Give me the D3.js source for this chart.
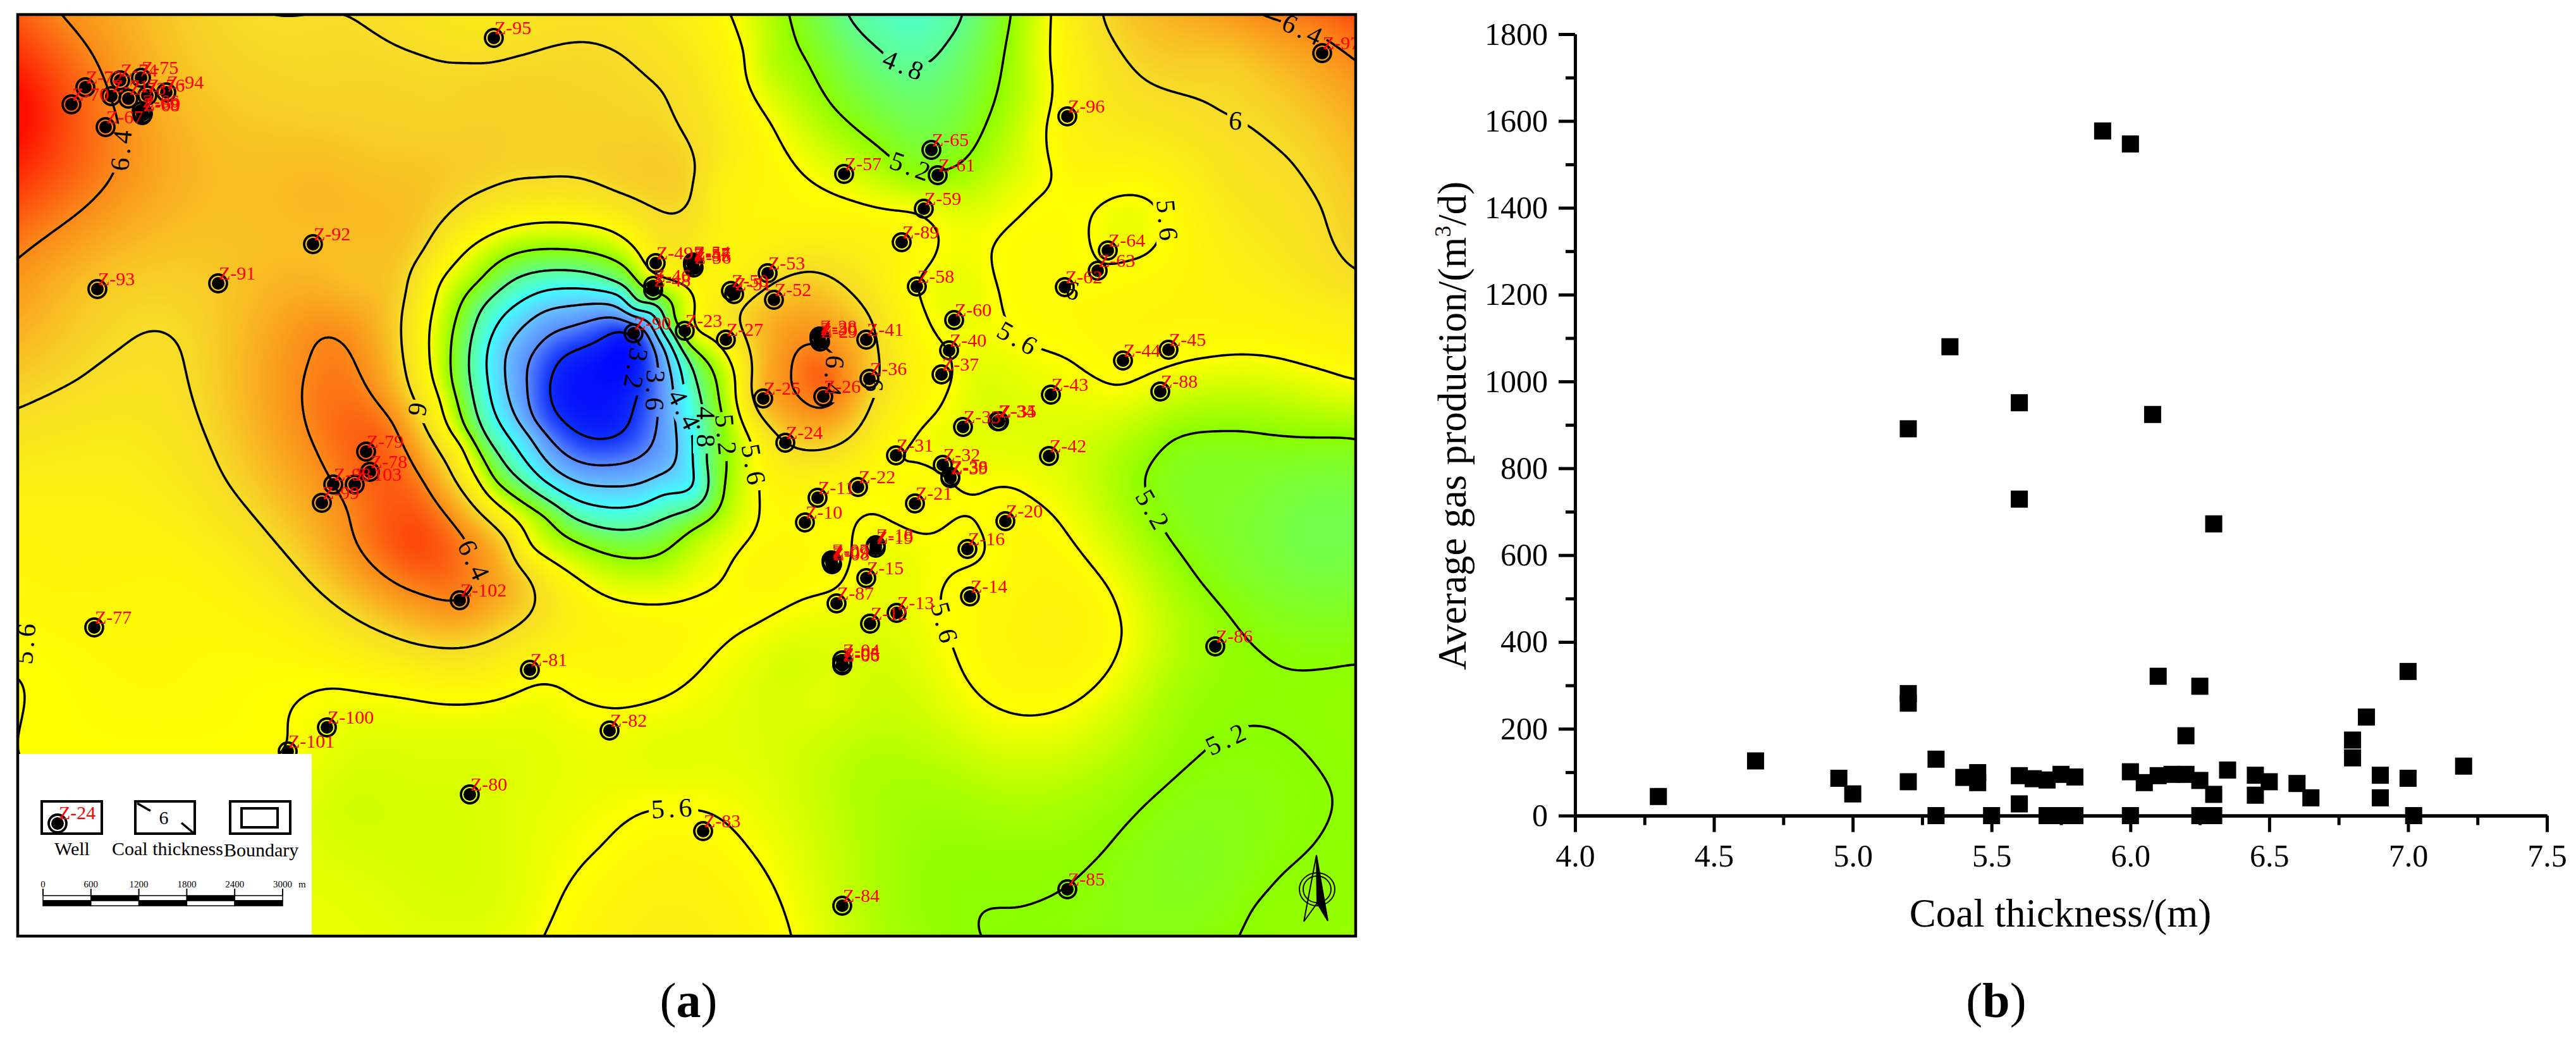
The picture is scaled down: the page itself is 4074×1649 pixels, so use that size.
<!DOCTYPE html>
<html><head><meta charset="utf-8">
<script src="https://cdn.jsdelivr.net/npm/d3@7"></script>
<style>html,body{margin:0;padding:0;background:#fff}svg{display:block}text{font-family:"Liberation Serif","Times New Roman",serif}</style>
</head><body><div id="chart"></div>
<script>
// ---------- (b) scatter readings ----------
const thickness = [4.3,4.65,4.95,5.0,5.2,5.2,5.2,5.2,5.35,5.3,5.3,5.4,5.45,5.45,5.5,5.6,5.6,5.6,5.6,5.65,5.7,5.75,5.8,5.7,5.75,5.8,5.9,6.0,6.0,6.0,6.05,6.08,6.1,6.1,6.15,6.2,6.2,6.25,6.25,6.25,6.3,6.3,6.3,6.35,6.45,6.45,6.5,6.6,6.65,6.8,6.8,6.85,6.9,6.9,7.0,7.0,7.02,7.2];
const gasRate   = [44,126,86,50,78,259,281,891,1080,130,0,88,99,76,0,92,27,951,729,85,82,95,89,0,0,0,1577,1547,101,0,76,924,92,321,95,95,184,81,298,0,49,0,672,105,93,47,78,74,41,174,133,227,93,41,86,332,0,114];
const xTicksMajor = [4,4.5,5,5.5,6,6.5,7,7.5];
const xTicksMinor = [4.25,4.75,5.25,5.75,6.25,6.75,7.25];
const yTicksMajor = [0,200,400,600,800,1000,1200,1400,1600,1800];
const yTicksMinor = [100,300,500,700,900,1100,1300,1500,1700];

// ---------- (a) wells: map position readings ----------
const wellNames=["Z-95","Z-92","Z-91","Z-93","Z-72","Z-70","Z-74","Z-75","Z-71","Z-73","Z-76","Z-94","Z-66","Z-69","Z-68","Z-67","Z-97","Z-96","Z-65","Z-57","Z-61","Z-59","Z-89","Z-64","Z-63","Z-62","Z-58","Z-53","Z-50","Z-51","Z-52","Z-54","Z-55","Z-56","Z-47","Z-49","Z-46","Z-48","Z-23","Z-90","Z-27","Z-28","Z-29","Z-30","Z-41","Z-60","Z-40","Z-37","Z-36","Z-26","Z-25","Z-44","Z-45","Z-43","Z-88","Z-33","Z-34","Z-35","Z-24","Z-31","Z-42","Z-32","Z-38","Z-39","Z-22","Z-11","Z-21","Z-10","Z-20","Z-18","Z-19","Z-16","Z-07","Z-08","Z-09","Z-15","Z-14","Z-87","Z-13","Z-12","Z-04","Z-05","Z-06","Z-86","Z-83","Z-84","Z-85","Z-77","Z-102","Z-81","Z-100","Z-101","Z-82","Z-80","Z-79","Z-78","Z-98","Z-103","Z-99"];
const wellEast=[781,495,345,154,135,113,190,223,176,203,233,263,224,226,225,167,2091,1688,1473,1335,1483,1461,1426,1752,1736,1684,1450,1214,1156,1161,1224,1096,1096,1097,1096,1037,1033,1033,1083,1002,1148,1296,1297,1296,1370,1509,1501,1489,1375,1302,1207,1776,1848,1662,1835,1523,1578,1580,1242,1417,1659,1491,1503,1503,1357,1293,1447,1273,1590,1385,1385,1530,1315,1316,1315,1370,1534,1323,1418,1376,1332,1332,1332,1922,1112,1332,1688,149,727,838,517,455,964,743,579,585,527,561,509];
const wellNorth=[60,386,448,457,138,165,127,123,152,156,151,146,176,180,182,201,84,184,237,275,277,330,383,396,428,454,453,432,460,465,474,415,419,423,417,416,452,459,523,527,537,532,540,536,537,506,554,592,599,627,630,570,553,624,619,675,666,666,700,720,721,735,754,756,770,787,796,826,824,862,866,868,886,892,889,914,943,954,969,986,1044,1050,1052,1022,1314,1432,1406,992,949,1059,1150,1188,1155,1256,714,746,766,766,795];

// ---------- (a) coal-thickness readings along the drawn isolines ----------
const iso32=[[868,611],[891,562],[951,536],[991,523],[1004,640],[991,679],[951,696],[904,679],[874,645]];
const iso36=[[834,611],[850,548],[904,516],[984,504],[1028,533],[1041,582],[1035,693],[1004,727],[957,736],[891,717],[847,669]];
const iso40=[[864,490],[957,480],[1024,504],[1050,548],[1065,606],[1072,722],[1018,763],[964,769],[907,760],[837,688],[800,611],[800,557]];
const iso44=[[891,456],[830,473],[783,519],[773,611],[797,679],[860,760],[968,803],[1024,794],[1050,780],[1101,768],[1094,679],[1079,606],[1050,533],[1024,490],[984,468]];
const iso48=[[884,427],[814,441],[763,485],[745,538],[745,611],[770,693],[824,760],[904,817],[971,837],[1031,828],[1094,805],[1120,760],[1116,727],[1112,654],[1087,567],[1068,528],[1050,504],[1011,485],[971,446],[1340,23],[1387,75],[1472,97],[1497,68],[1523,23]];
const iso52=[[884,394],[804,405],[757,446],[723,499],[713,557],[716,611],[737,679],[783,760],[864,817],[924,862],[984,881],[1045,876],[1098,834],[1145,766],[1149,742],[1142,654],[1123,577],[1079,533],[1065,509],[1065,480],[1031,460],[991,422],[937,400],
 [1248,23],[1277,97],[1314,165],[1395,237],[1442,271],[1505,267],[1556,204],[1578,141],[1593,58],[1599,23],
 [1809,760],[1827,722],[1857,693],[1893,683],[1967,681],[2062,691],[2143,693],[1824,808],[1846,848],[1893,913],[1941,970],[1996,1032],[2077,1058],[2143,1049],
 [1549,1480],[1607,1435],[1688,1401],[1747,1344],[1813,1270],[1904,1188],[1992,1148],[2040,1168],[2084,1214],[2108,1259],[2091,1316],[2025,1384],[1981,1435],[1959,1480]];
const iso56=[[884,352],[804,361],[737,397],[696,446],[680,514],[680,572],[696,630],[730,703],[757,760],[837,862],[937,930],[1004,953],[1050,954],[1094,944],[1145,913],[1189,845],[1200,788],[1186,693],[1164,601],[1123,533],[1101,526],[1098,494],[1087,456],[1050,441],[1024,427],[1004,393],[964,364],
 [1156,23],[1178,87],[1219,194],[1255,257],[1299,296],[1343,315],[1395,329],[1446,334],[1472,349],[1484,383],[1472,417],[1450,451],[1461,490],[1479,528],[1501,557],[1508,596],[1483,650],[1446,693],[1417,722],[1457,732],[1501,760],[1530,786],[1578,769],[1629,786],[1673,822],[1710,873],[1754,930],[1775,1004],[1754,1060],[1695,1114],[1622,1132],[1563,1112],[1527,1072],[1512,1038],[1494,987],[1486,941],[1505,907],[1556,882],[1560,856],[1527,808],[1490,834],[1464,845],[1424,831],[1380,810],[1351,834],[1347,885],[1325,930],[1270,947],[1197,987],[1123,1043],[1050,1103],[981,1120],[904,1100],[850,1080],[804,1100],[737,1113],[636,1103],[529,1087],[482,1100],[455,1146],[455,1180],[29,1068],[29,1190],[240,1250],
 [1662,23],[1660,97],[1655,194],[1665,271],[1637,315],[1593,359],[1567,402],[1571,436],[1585,490],[1611,536],[1648,553],[1688,567],[1739,601],[1772,611],[1813,594],[1857,577],[1915,565],[1974,561],[2062,577],[2143,601],
 [1824,320],[1776,308],[1739,325],[1723,359],[1728,397],[1739,417],[1783,412],[1824,393],[1837,355],
 [860,1480],[891,1412],[951,1338],[1024,1282],[1120,1284],[1182,1338],[1226,1406],[1252,1480]];
const iso60=[[549,23],[603,58],[670,87],[737,98],[810,90],[870,73],[924,65],[978,82],[1024,121],[1050,145],[1079,208],[1101,271],[1094,315],[1065,339],[1045,334],[971,303],[857,282],[770,300],[710,339],[670,397],[643,465],[635,514],[639,572],[650,620],[670,671],[696,717],[720,760],[804,856],[837,913],[847,953],[804,998],[720,1025],[656,1018],[549,970],[469,896],[402,817],[358,760],[335,712],[301,616],[285,548],[244,522],[194,548],[121,601],[30,645],
 [1283,428],[1226,446],[1167,504],[1186,611],[1197,650],[1242,700],[1292,712],[1343,693],[1378,637],[1391,572],[1380,509],[1343,460],
 [1743,23],[1772,82],[1813,128],[1930,177],[1978,201],[2040,252],[2091,330],[2143,427]];
const iso64=[[97,23],[144,82],[177,160],[187,194],[181,271],[121,339],[30,407],
 [1288,543],[1252,591],[1266,630],[1302,647],[1332,620],[1325,572],
 [516,529],[489,567],[477,620],[489,688],[502,717],[530,770],[549,805],[562,856],[603,907],[670,941],[727,950],[750,900],[733,848],[670,760],[643,712],[623,669],[589,625],[549,548],
 [1996,24],[2033,36],[2091,58],[2143,95]];
const isoLevels=[[3.2,iso32],[3.6,iso36],[4.0,iso40],[4.4,iso44],[4.8,iso48],[5.2,iso52],[5.6,iso56],[6.0,iso60],[6.4,iso64]];
// spot readings [east,north,thickness]
const spotReadings=[[945,615,3.0],[1455,24,4.62],[1440,60,4.68],[28,180,6.85],[28,24,6.55],[28,300,6.65],[100,200,6.62],[250,200,6.25],[500,150,6.04],[300,100,6.1],[700,180,6.04],[154,457,6.1],[345,448,6.1],[495,386,6.15],[500,300,6.18],[600,250,6.1],[28,500,6.25],[560,450,6.15],[660,856,6.62],[610,800,6.55],[1295,590,6.55],[2144,24,6.6],[1950,100,6.08],[1700,100,5.75],[1700,250,5.72],[1800,500,5.7],[2000,480,5.75],[1950,300,5.9],[2143,500,5.8],[1780,360,5.52],[2060,870,5.0],[2143,850,5.0],[1950,780,5.1],[1900,1380,5.12],[1050,1480,5.8],[1050,1380,5.72],[656,1230,5.47],[536,1270,5.45],[850,1300,5.52],[803,1440,5.5],[560,1400,5.5],[1500,1250,5.3],[1350,1200,5.35],[1300,1100,5.5],[1850,1100,5.3],[1400,1450,5.3],[1700,1250,5.32],[2130,1400,5.22],[1600,700,5.5],[1750,750,5.35],[1650,950,5.72],[1600,1000,5.7],[1420,950,5.52],[1400,890,5.52],[1528,797,5.63],[1600,810,5.66],[1450,780,5.68],[1470,700,5.55],[1530,450,5.52],[1540,600,5.5],[1625,150,5.4],[1210,100,5.4],[1420,450,5.7],[1430,550,5.75],[1283,380,5.75],[1130,300,5.8],[1200,300,5.7],[1150,430,5.7],[1300,760,5.72],[1240,830,5.65],[1200,900,5.68],[1000,1020,5.7],[1250,1050,5.45],[1400,1050,5.45],[1050,1190,5.5],[1300,1300,5.42],[100,900,5.72],[300,900,5.72],[200,700,5.85],[28,800,5.75],[450,1000,5.72],[650,1060,5.75],[900,1040,5.68],[100,1140,5.62],[250,1060,5.66],[750,30,5.85],[1000,200,6.04],[900,180,6.04],[820,220,6.06],[1060,40,5.85],[1140,60,5.7]];

// ---------- contour labels ----------
const contourLabelText =["6.4","5.6","6","6.4","4.8","5.2","5.6","3.2","3.6","4.4","4.8","5.2","5.6","6","6.4","6","6","5.6","6.4","5.6","5.2","5.2","5.6"];
const contourLabelEast =[192,1846,1957,2062,1431,1442,1611,1005,1036,1083,1116,1148,1192,660,1318,1382,1699,40,750,1494,1824,1941,1065];
const contourLabelNorth=[235,351,191,48,104,264,536,585,620,650,678,690,737,650,597,612,460,1015,888,987,808,1168,1278];
const contourLabelAngle=[-85,85,5,25,22,20,30,100,92,63,90,85,80,100,95,90,10,-85,65,75,60,-25,-3];

const scaleBarStops=[0,600,1200,1800,2400,3000];
const colorStops=[2.9,3.2,3.6,4.0,4.4,4.8,5.2,5.6,6.0,6.4,6.8,7.0];
const colorValues=["#0000ff","#1030f8","#5a8cff","#68c4ff","#40ffff","#60ff90","#8cff00","#ffff00","#f7dd28","#fb8a1a","#ff1000","#ff0000"];

// ---------- layout ----------
const W=4074,H=1649;
const M={l:28,t:23,r:2144,b:1480};
const P={l:2491,r:4028,t:54,b:1289.5};
const svg=d3.select("#chart").append("svg").attr("width",W).attr("height",H).attr("viewBox",`0 0 ${W} ${H}`);
const mapX=d3.scaleLinear().domain([28,2144]).range([M.l,M.r]);
const mapY=d3.scaleLinear().domain([23,1480]).range([M.t,M.b]);
const color=d3.scaleLinear().domain(colorStops).range(colorValues).interpolate(d3.interpolateRgb).clamp(true);

// ---------- thin-plate surface through the readings ----------
const pts=[];
isoLevels.forEach(([lv,arr])=>arr.forEach(p=>pts.push([p[0]/1000,p[1]/1000,lv])));
spotReadings.forEach(p=>pts.push([p[0]/1000,p[1]/1000,p[2]]));
const n=pts.length,N=n+3;
const A=Array.from({length:N},()=>new Float64Array(N+1));
const U=r2=>r2>1e-12?r2*Math.log(r2)*0.5:0;
for(let i=0;i<n;i++){
  for(let j=0;j<n;j++){const dx=pts[i][0]-pts[j][0],dy=pts[i][1]-pts[j][1];A[i][j]=U(dx*dx+dy*dy);}
  A[i][i]=5e-5;
  A[i][n]=1;A[i][n+1]=pts[i][0];A[i][n+2]=pts[i][1];
  A[n][i]=1;A[n+1][i]=pts[i][0];A[n+2][i]=pts[i][1];
  A[i][N]=pts[i][2];
}
for(let c=0;c<N;c++){
  let m=c;for(let r=c+1;r<N;r++)if(Math.abs(A[r][c])>Math.abs(A[m][c]))m=r;
  [A[c],A[m]]=[A[m],A[c]];
  const pv=A[c];
  for(let r=c+1;r<N;r++){const f=A[r][c]/pv[c];if(f===0)continue;const R=A[r];for(let k=c;k<=N;k++)R[k]-=f*pv[k];}
}
const w=new Float64Array(N);
for(let r=N-1;r>=0;r--){let s=A[r][N];for(let k=r+1;k<N;k++)s-=A[r][k]*w[k];w[r]=s/A[r][r];}
const step=4,pad=16;
const gx0=28-pad,gy0=23-pad;
const nx=Math.ceil((2116+2*pad)/step),ny=Math.ceil((1457+2*pad)/step);
const field=new Float64Array(nx*ny);
for(let j=0;j<ny;j++){
  const y=(gy0+(j+.5)*step)/1000;
  for(let i=0;i<nx;i++){
    const x=(gx0+(i+.5)*step)/1000;
    let v=w[n]+w[n+1]*x+w[n+2]*y;
    for(let k=0;k<n;k++){const dx=x-pts[k][0],dy=y-pts[k][1];const r2=dx*dx+dy*dy;if(r2>1e-12)v+=w[k]*r2*Math.log(r2)*0.5;}
    field[j*nx+i]=v;
  }
}
if(d3.blur2) d3.blur2({data:field,width:nx,height:ny},2);
// raster
const cv=document.createElement("canvas");cv.width=nx;cv.height=ny;
const ctx=cv.getContext("2d");const img=ctx.createImageData(nx,ny);
for(let i=0;i<nx*ny;i++){const c=d3.rgb(color(field[i]));img.data[4*i]=c.r;img.data[4*i+1]=c.g;img.data[4*i+2]=c.b;img.data[4*i+3]=255;}
ctx.putImageData(img,0,0);
const defs=svg.append("defs");
defs.append("clipPath").attr("id","mapClip").append("rect").attr("x",M.l).attr("y",M.t).attr("width",M.r-M.l).attr("height",M.b-M.t);
const gMap=svg.append("g").attr("clip-path","url(#mapClip)");
gMap.append("image").attr("href",cv.toDataURL()).attr("x",mapX(gx0)).attr("y",mapY(gy0)).attr("width",nx*step).attr("height",ny*step).attr("preserveAspectRatio","none");

// contour label mask
const mask=defs.append("mask").attr("id","labelGaps").attr("maskUnits","userSpaceOnUse").attr("x",0).attr("y",0).attr("width",W).attr("height",H);
mask.append("rect").attr("width",W).attr("height",H).attr("fill","#fff");
contourLabelText.forEach((t,i)=>{
  const L=t.length===1?34:78;
  mask.append("rect").attr("x",-L/2).attr("y",-20).attr("width",L).attr("height",40).attr("fill","#000")
   .attr("transform",`translate(${mapX(contourLabelEast[i])},${mapY(contourLabelNorth[i])}) rotate(${contourLabelAngle[i]})`);
});
const contourGen=d3.contours().size([nx,ny]).smooth(true).thresholds(isoLevels.map(d=>d[0]));
const path=d3.geoPath(d3.geoTransform({point(x,y){this.stream.point(mapX(gx0+x*step),mapY(gy0+y*step));}}));
gMap.append("g").attr("mask","url(#labelGaps)").selectAll("path").data(contourGen(Array.from(field))).join("path")
 .attr("d",path).attr("fill","none").attr("stroke","#000").attr("stroke-width",3.6).attr("stroke-linejoin","round");

// contour labels
gMap.append("g").selectAll("text").data(contourLabelText).join("text")
 .attr("transform",(d,i)=>`translate(${mapX(contourLabelEast[i])},${mapY(contourLabelNorth[i])}) rotate(${contourLabelAngle[i]})`)
 .attr("text-anchor","middle").attr("dy",".33em").attr("font-size",42).attr("letter-spacing",6).attr("fill","#000").text(d=>d);

// wells
function well(g,x,y){
  g.append("circle").attr("cx",x).attr("cy",y).attr("r",14).attr("fill","none").attr("stroke","#000").attr("stroke-width",3.8);
  g.append("circle").attr("cx",x).attr("cy",y).attr("r",10).attr("fill","#000");
}
const gWells=gMap.append("g");
wellNames.forEach((nm,i)=>well(gWells,mapX(wellEast[i]),mapY(wellNorth[i])));
gMap.append("g").selectAll("text").data(wellNames).join("text")
 .attr("x",(d,i)=>mapX(wellEast[i])+1).attr("y",(d,i)=>mapY(wellNorth[i])-6)
 .attr("font-size",30).attr("fill","#ff0000").text(d=>d);

// legend
const gLeg=svg.append("g");
gLeg.append("rect").attr("x",M.l).attr("y",1192).attr("width",465).attr("height",M.b-1192).attr("fill","#fff");
[[66,161],[214,308],[364,459]].forEach(b=>gLeg.append("rect").attr("x",b[0]).attr("y",1267).attr("width",b[1]-b[0]).attr("height",51).attr("fill","#fff").attr("stroke","#000").attr("stroke-width",4));
gLeg.append("rect").attr("x",382).attr("y",1278).attr("width",57).attr("height",30).attr("fill","none").attr("stroke","#000").attr("stroke-width",4);
well(gLeg,91,1302);
gLeg.append("text").attr("x",93).attr("y",1295).attr("font-size",30).attr("fill","#ff0000").text("Z-24");
gLeg.append("text").attr("x",259).attr("y",1303).attr("text-anchor","middle").attr("font-size",30).text("6");
gLeg.append("line").attr("x1",217).attr("y1",1270).attr("x2",238).attr("y2",1282).attr("stroke","#000").attr("stroke-width",3.5);
gLeg.append("line").attr("x1",287).attr("y1",1301).attr("x2",306).attr("y2",1317).attr("stroke","#000").attr("stroke-width",3.5);
gLeg.append("text").attr("x",86).attr("y",1352).attr("font-size",30).text("Well");
gLeg.append("text").attr("x",177).attr("y",1352).attr("font-size",30).text("Coal thickness");
gLeg.append("text").attr("x",354).attr("y",1354).attr("font-size",30).text("Boundary");
// scale bar
const sb=d3.scaleLinear().domain([0,3000]).range([68,447]);
d3.pairs(scaleBarStops).forEach((p,i)=>{
  const x0=sb(p[0]),bw=sb(p[1])-sb(p[0]);
  gLeg.append("rect").attr("x",x0).attr("y",1416).attr("width",bw).attr("height",8).attr("fill",i%2?"#000":"#fff").attr("stroke","#000").attr("stroke-width",1.5);
  gLeg.append("rect").attr("x",x0).attr("y",1424).attr("width",bw).attr("height",8).attr("fill",i%2?"#fff":"#000").attr("stroke","#000").attr("stroke-width",1.5);
});
scaleBarStops.forEach(s=>{
  gLeg.append("line").attr("x1",sb(s)).attr("x2",sb(s)).attr("y1",1405).attr("y2",1416).attr("stroke","#000").attr("stroke-width",2);
  gLeg.append("text").attr("x",sb(s)).attr("y",1403).attr("text-anchor","middle").attr("font-size",15).text(s);
});
gLeg.append("text").attr("x",472).attr("y",1403).attr("font-size",15).text("m");

// north arrow
const gN=svg.append("g").attr("fill","none").attr("stroke","#000").attr("stroke-width",2);
gN.append("ellipse").attr("cx",2083).attr("cy",1406).attr("rx",28).attr("ry",26);
gN.append("ellipse").attr("cx",2083).attr("cy",1406).attr("rx",22).attr("ry",21);
gN.append("path").attr("d",d3.line()([[2082,1352],[2062,1457],[2083,1428]]));
gN.append("path").attr("d",d3.line()([[2082,1352],[2100,1456],[2083,1428]])+"Z").attr("fill","#000");

// frame
svg.append("rect").attr("x",M.l).attr("y",M.t).attr("width",M.r-M.l).attr("height",M.b-M.t).attr("fill","none").attr("stroke","#000").attr("stroke-width",4.5);

// ---------- (b) ----------
const x=d3.scaleLinear().domain([4,7.5]).range([P.l,P.r]);
const y=d3.scaleLinear().domain([0,1800]).range([P.b,P.t]);
const tickStyle=g=>{g.selectAll("path,line").attr("stroke","#000").attr("stroke-width",5);g.selectAll("text").attr("font-size",50).attr("font-family",'"Liberation Serif",serif').attr("fill","#000");};
svg.append("g").attr("transform",`translate(${P.l},0)`).call(d3.axisLeft(y).tickValues(yTicksMinor).tickSize(15).tickSizeOuter(0).tickFormat("")).call(tickStyle);
svg.append("g").attr("transform",`translate(${P.l},0)`).call(d3.axisLeft(y).tickValues(yTicksMajor).tickSize(26).tickSizeOuter(0).tickPadding(17).tickFormat(d3.format("d"))).call(tickStyle);
svg.append("g").attr("transform",`translate(0,${P.b})`).call(d3.axisBottom(x).tickValues(xTicksMinor).tickSize(15).tickSizeOuter(0).tickFormat("")).call(tickStyle);
svg.append("g").attr("transform",`translate(0,${P.b})`).call(d3.axisBottom(x).tickValues(xTicksMajor).tickSize(26).tickSizeOuter(0).tickPadding(19).tickFormat(d3.format(".1f"))).call(tickStyle);
const sq=27;
svg.append("g").selectAll("rect").data(thickness).join("rect")
 .attr("x",(d)=>x(d)-sq/2).attr("y",(d,i)=>y(gasRate[i])-sq/2).attr("width",sq).attr("height",sq).attr("fill","#000");
svg.append("text").attr("x",(3019+3498)/2).attr("y",1465).attr("text-anchor","middle").attr("font-size",63).text("Coal thickness/(m)");
const yt=svg.append("text").attr("transform","translate(2318,673) rotate(-90)").attr("text-anchor","middle").attr("font-size",63);
yt.append("tspan").text("Average gas production/(m");
yt.append("tspan").attr("font-size",36).attr("dy",-24).text("3");
yt.append("tspan").attr("dy",24).text("/d)");

// panel letters
const pa=svg.append("text").attr("x",1089).attr("y",1608).attr("text-anchor","middle").attr("font-size",78);
pa.append("tspan").text("(");pa.append("tspan").attr("font-weight","bold").text("a");pa.append("tspan").text(")");
const pb=svg.append("text").attr("x",3157).attr("y",1608).attr("text-anchor","middle").attr("font-size",78);
pb.append("tspan").text("(");pb.append("tspan").attr("font-weight","bold").text("b");pb.append("tspan").text(")");
</script></body></html>
